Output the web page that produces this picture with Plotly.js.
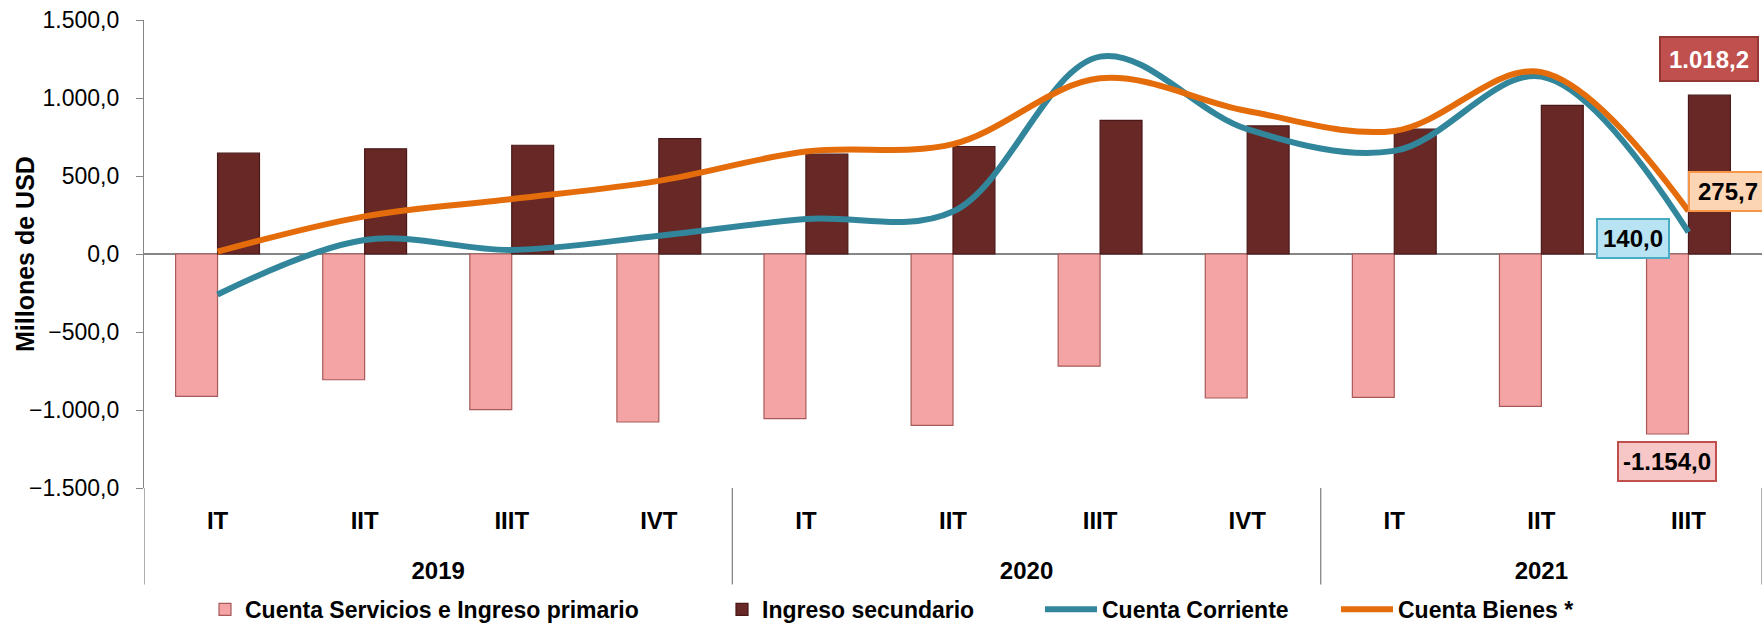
<!DOCTYPE html>
<html>
<head>
<meta charset="utf-8">
<script src="https://cdn.plot.ly/plotly-3.0.1.min.js"></script>
<style>
html,body{margin:0;padding:0;background:#fff;}
#chart{width:1762px;height:625px;}
</style>
</head>
<body>
<div id="chart"></div>
<script>
// ---- data ----
const quarters = ["IT","IIT","IIIT","IVT","IT","IIT","IIIT","IVT","IT","IIT","IIIT"];
const years = ["2019","2019","2019","2019","2020","2020","2020","2020","2021","2021","2021"];
const servicios = [-913, -806, -998, -1077, -1055, -1098, -719, -923, -919, -977, -1154.0];
const secundario = [646, 674, 697, 740, 640, 689, 857, 821, 800, 953, 1018.2];
const corriente = [-260, 90, 26, 117, 224, 272, 1265, 800, 661, 1137, 140.0];
const bienes = [15, 241, 352, 469, 657, 704, 1126, 917, 789, 1166, 275.7];
const seriesNames = ["Cuenta Servicios e Ingreso primario", "Ingreso secundario", "Cuenta Corriente", "Cuenta Bienes *"];
const yTitle = "Millones de USD";

const FONT = '"Liberation Sans Narrow", "Arial Narrow", "Liberation Sans", Arial, sans-serif';

function fmt(v){
  const neg = v < 0;
  const s = Math.abs(v).toFixed(1).split('.');
  const intp = s[0].replace(/\B(?=(\d{3})+(?!\d))/g, '.');
  return (neg ? '-' : '') + intp + ',' + s[1];
}

// category positions (index) and year groups derived from the arrays
const idx = quarters.map((q, i) => i);
const last = idx.length - 1;
const groups = [];
years.forEach((y, i) => {
  const g = groups.length ? groups[groups.length - 1] : null;
  if (g && g.year === y) { g.end = i; } else { groups.push({year: y, start: i, end: i}); }
});
const yearCenters = groups.map(g => (g.start + g.end) / 2);
const yearLabels = groups.map(g => g.year);
const dividers = [groups[0].start - 0.5].concat(groups.map(g => g.end + 0.5));

const traces = [
  {type:'bar', name: seriesNames[0], x: idx, y: servicios, legend:'legend',
   marker:{color:'#F4A4A4', line:{color:'#A85A5A', width:1.2}}},
  {type:'bar', name: seriesNames[1], x: idx, y: secundario, legend:'legend2',
   marker:{color:'#672826', line:{color:'#4A1818', width:1.2}}},
  {type:'scatter', mode:'lines', name: seriesNames[2], x: idx, y: corriente, legend:'legend3',
   line:{color:'#31869B', width:6, shape:'spline', smoothing:1}},
  {type:'scatter', mode:'lines', name: seriesNames[3], x: idx, y: bienes, legend:'legend4',
   line:{color:'#E46C0A', width:6, shape:'spline', smoothing:1}}
];

const pw = 1618, ph = 468.5;
function px2paper(p){ return (p - 144) / pw; }
const legY = -(610 - 488.5) / ph;
const legFont = {family: FONT, size: 23, color:'#000', weight:'bold'};
function leg(px, w){
  return {orientation:'h', x: px2paper(px), xanchor:'left', y: legY, yanchor:'middle',
          font: legFont, itemwidth: w, bgcolor:'rgba(0,0,0,0)', borderwidth:0};
}

const annFont = {family: FONT, size: 24, weight:'bold'};
const annotations = [
  {xref:'x', yref:'y', x: last, y: secundario[last], text: fmt(secundario[last]), showarrow:false,
   xshift: 21, yshift: 36, font: Object.assign({}, annFont, {color:'#FFFFFF'}),
   bgcolor:'#C0504D', bordercolor:'#953735', borderwidth:2, borderpad:4, width:88, height:34},
  {xref:'x', yref:'y', x: last, y: bienes[last], text: fmt(bienes[last]), showarrow:false,
   xshift: 40, yshift: 19, font: Object.assign({}, annFont, {color:'#000'}),
   bgcolor:'#FCD5B4', bordercolor:'#F79646', borderwidth:2, borderpad:4, width:68, height:29},
  {xref:'x', yref:'y', x: last, y: corriente[last], text: fmt(corriente[last]), showarrow:false,
   xshift: -55, yshift: -6, font: Object.assign({}, annFont, {color:'#000'}),
   bgcolor:'#B7E3F3', bordercolor:'#4BACC6', borderwidth:2, borderpad:4, width:62, height:29},
  {xref:'x', yref:'y', x: last, y: servicios[last], text: fmt(servicios[last]), showarrow:false,
   xshift: -21, yshift: -27, font: Object.assign({}, annFont, {color:'#000'}),
   bgcolor:'#F7C6C6', bordercolor:'#C0504D', borderwidth:2, borderpad:4, width:88, height:29},
  // y-axis title, placed as rotated text left of the tick labels
  {xref:'paper', yref:'paper', x: px2paper(25), y: 0.5, xanchor:'center', yanchor:'middle',
   text: yTitle, textangle:-90, showarrow:false,
   font:{family: FONT, size:25, color:'#000', weight:'bold'}}
];

const divBottom = -(585 - 488.5) / ph;
const shapes = dividers.map(d => ({type:'line', xref:'x', yref:'paper', x0: d, x1: d, y0: 0, y1: divBottom,
  line:{color:'#868686', width:1.3}}));

const xRange = [dividers[0], dividers[dividers.length - 1]];
const layout = {
  width:1762, height:625,
  margin:{l:144, r:0, t:20, b:137, pad:0, autoexpand:false},
  paper_bgcolor:'#fff', plot_bgcolor:'#fff',
  font:{family: FONT, size: 22, color:'#000'},
  separators: ',.',
  barmode:'group', bargap:0.43, bargroupgap:0,
  showlegend:true,
  legend: leg(205, 30),
  legend2: leg(722, 30),
  legend3: leg(1040, 52),
  legend4: leg(1336, 52),
  xaxis:{type:'linear', range: xRange, tickvals: idx, ticktext: quarters,
         showgrid:false, showline:false, zeroline:false, ticks:'', automargin:false,
         tickfont:{family: FONT, size:24, color:'#000', weight:'bold'}, ticklabelstandoff: 16},
  xaxis2:{type:'linear', overlaying:'x', anchor:'y', side:'bottom', range: xRange,
          tickvals: yearCenters, ticktext: yearLabels,
          showgrid:false, showline:false, zeroline:false, ticks:'', automargin:false,
          tickfont:{family: FONT, size:24, color:'#000', weight:'bold'}, ticklabelstandoff: 66},
  yaxis:{range:[-1500,1500], tickvals:[-1500,-1000,-500,0,500,1000,1500], tickformat:',.1f',
         showgrid:false, showline:true, linecolor:'#868686', linewidth:1.3,
         ticks:'outside', ticklen:7, tickcolor:'#868686', tickwidth:1.3,
         zeroline:true, zerolinecolor:'#868686', zerolinewidth:1.5,
         tickfont:{family: FONT, size:23, color:'#000'}, ticklabelstandoff: 12, automargin:false},
  shapes: shapes,
  annotations: annotations
};

// invisible helper trace so xaxis2 is drawn
traces.push({type:'scatter', mode:'none', x: xRange, y:[0,0], xaxis:'x2', yaxis:'y', showlegend:false, hoverinfo:'skip'});

Plotly.newPlot('chart', traces, layout, {displayModeBar:false, responsive:false});
</script>
</body>
</html>
